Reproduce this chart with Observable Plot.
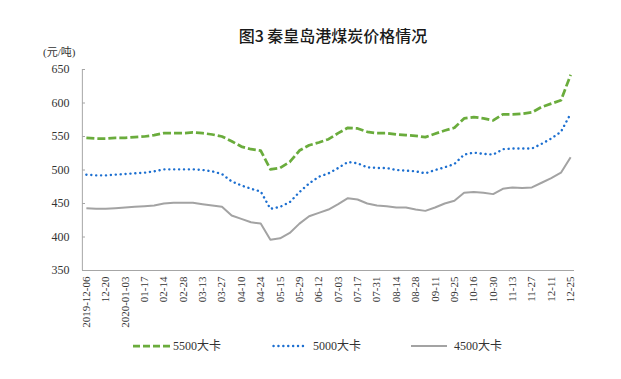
<!DOCTYPE html>
<html><head><meta charset="utf-8">
<script src="https://cdn.jsdelivr.net/npm/d3@7"></script>
<script src="https://cdn.jsdelivr.net/npm/@observablehq/plot@0.6"></script>
<style>
body{margin:0;background:#fff;}
#wrap{position:relative;width:621px;height:379px;overflow:hidden;background:#fff;}
#chart{position:absolute;left:0;top:0;}
#title{position:absolute;left:333px;top:26px;transform:translateX(-50%);white-space:nowrap;font:500 16px/18px "Noto Sans CJK SC",sans-serif;color:#1a1a1a;}
#unit{position:absolute;left:43px;top:46px;font:11px/12px "Liberation Serif","Noto Sans CJK SC",serif;color:#333;}
.leg{position:absolute;top:338px;height:16px;display:flex;align-items:center;font:12px/16px "Liberation Serif","Noto Sans CJK SC",serif;color:#333;}
.leg svg{display:block;margin-right:3px;}
</style>
</head><body>
<div id="wrap">
  <div id="chart"></div>
  <div id="title">图3 秦皇岛港煤炭价格情况</div>
  <div id="unit">(元/吨)</div>
  <div id="legend"></div>
</div>
<script>
// weekly categories (every other one labelled)
const dates = [
  "2019-12-06","12-13","12-20","12-27","2020-01-03","01-10","01-17","02-07","02-14","02-21",
  "02-28","03-06","03-13","03-20","03-27","04-03","04-10","04-17","04-24","05-08",
  "05-15","05-22","05-29","06-05","06-12","06-19","07-03","07-10","07-17","07-24",
  "07-31","08-07","08-14","08-21","08-28","09-04","09-11","09-18","09-25","10-09",
  "10-16","10-23","10-30","11-06","11-13","11-20","11-27","12-04","12-11","12-18","12-25"
];
const coal5500 = [548,547,547,548,548,549,550,552,555,555,555,556,555,553,550,543,535,531,529,501,
  503,512,529,537,541,546,555,563,562,557,555,555,553,552,551,549,554,559,563,577,
  579,577,574,583,583,584,586,594,599,604,642];
const coal5000 = [493,492,492,493,494,495,496,498,501,501,501,501,500,498,494,483,477,472,468,442,
  445,452,467,480,490,495,503,512,510,504,503,503,500,499,498,495,500,504,509,523,
  526,524,523,531,532,532,532,539,547,557,584];
const coal4500 = [443,442,442,443,444,445,446,447,450,451,451,451,449,447,445,432,427,422,420,396,
  398,406,420,431,436,441,449,458,456,450,447,446,444,444,441,439,444,450,454,466,
  467,466,464,472,474,473,474,481,488,496,519];
const seriesNames = ["5500大卡","5000大卡","4500大卡"];
const yTicks = [350,400,450,500,550,600,650];
const xTickLabels = dates.filter((d,i) => i % 2 === 0);

const styles = [
  {stroke:"#6aac3c", strokeWidth:2.75, strokeDasharray:"8,3", strokeLinecap:"butt"},
  {stroke:"#1c6fd0", strokeWidth:2.4, strokeDasharray:"0.1,4.8", strokeLinecap:"round"},
  {stroke:"#a3a3a3", strokeWidth:2, strokeDasharray:null, strokeLinecap:"butt"}
];
const seriesValues = [coal5500, coal5000, coal4500];
const rows = seriesValues.map((vals, s) => vals.map((v, i) => ({date: dates[i], value: v, series: seriesNames[s]})));

const axisColor = "#a6a6a6";
const chart = Plot.plot({
  width: 621, height: 379,
  marginLeft: 82, marginRight: 47, marginTop: 69, marginBottom: 109,
  style: {fontFamily: "'Liberation Serif', serif", fontSize: "11px", color: "#333", background: "transparent"},
  x: {type: "point", domain: dates, padding: 0.4},
  y: {domain: [350, 650]},
  marks: [
    Plot.ruleY([350], {stroke: axisColor}),
    Plot.ruleX([dates[0]], {stroke: axisColor, dx: -4}),
    Plot.axisY({ticks: yTicks, tickSize: 0, tickPadding: 13, label: null, fontSize: 12, fill: "#333"}),
    Plot.axisY({ticks: yTicks, tickSize: -3, tickFormat: () => "", label: null, stroke: axisColor}),
    Plot.axisX({ticks: xTickLabels, tickRotate: -90, tickSize: 0, tickPadding: 6, label: null, fontSize: 11, fill: "#333"}),
    ...rows.map((r, s) => Plot.line(r, {x: "date", y: "value", ...styles[s]}))
  ]
});
document.getElementById("chart").appendChild(chart);

// legend
const legendPos = [133, 272, 411];
const legend = document.getElementById("legend");
seriesNames.forEach((name, s) => {
  const div = document.createElement("div");
  div.className = "leg";
  div.style.left = legendPos[s] + "px";
  const st = styles[s];
  const w = s === 0 ? 37 : (s === 1 ? 34 : 36);
  div.innerHTML = `<svg width="${w + (s===0?0:4)}" height="6"><line x1="${s===1?1.5:0}" y1="3" x2="${w}" y2="3" stroke="${st.stroke}" stroke-width="${st.strokeWidth}" ${st.strokeDasharray ? `stroke-dasharray="${s===0 ? '7,3' : st.strokeDasharray}"` : ""} stroke-linecap="${st.strokeLinecap}"/></svg><span>${name}</span>`;
  legend.appendChild(div);
});
</script>
</body></html>
